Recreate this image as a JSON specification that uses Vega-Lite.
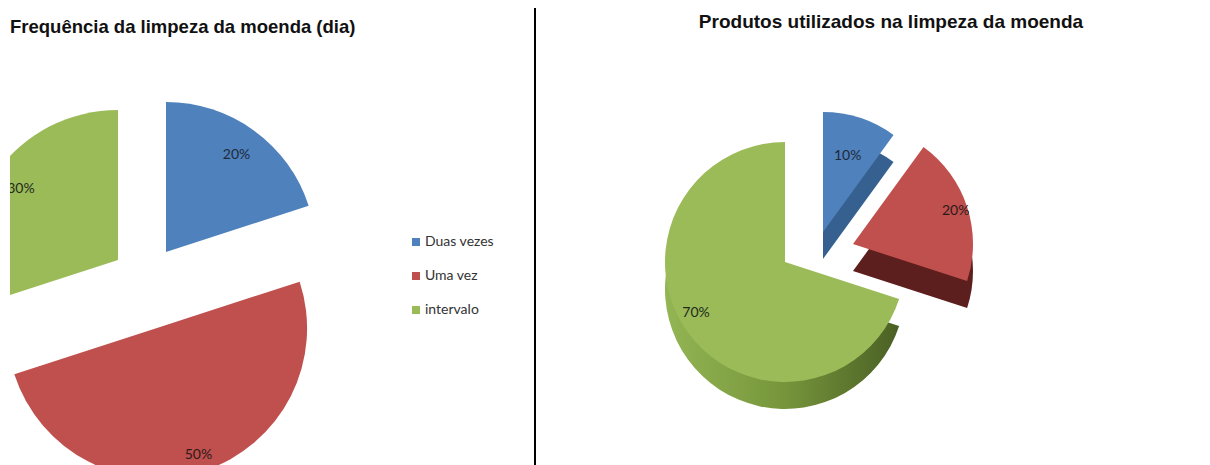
{
  "$schema": "https://vega.github.io/schema/vega-lite/v6.json",
  "autosize": {"type": "none"},
  "padding": {"left": 10, "top": 0, "right": 0, "bottom": 0},
  "width": 1200,
  "height": 465,
  "background": "white",
  "config": {
    "view": {"stroke": null},
    "legend": {
      "symbolType": "square",
      "symbolSize": 64,
      "symbolStrokeWidth": 0,
      "labelFont": "Lato",
      "labelFontSize": 14,
      "labelColor": "#333333",
      "labelOffset": 2,
      "rowPadding": 20,
      "padding": 0
    }
  },
  "datasets": {
    "fatias": [
      {"grafico": "freq", "ordem": 1, "categoria": "Duas vezes", "valor": 0.2},
      {"grafico": "freq", "ordem": 2, "categoria": "Uma vez", "valor": 0.5},
      {"grafico": "freq", "ordem": 3, "categoria": "intervalo", "valor": 0.3},
      {"grafico": "prod", "ordem": 1, "categoria": "água", "valor": 0.1},
      {"grafico": "prod", "ordem": 2, "categoria": "água e sabão", "valor": 0.2},
      {"grafico": "prod", "ordem": 3, "categoria": "água e detergente", "valor": 0.7}
    ],
    "titulos": [
      {"grafico": "freq", "titulo": "Frequência da limpeza da moenda (dia)"},
      {"grafico": "prod", "titulo": "Produtos utilizados na limpeza da moenda"}
    ]
  },
  "data": {"name": "fatias"},
  "encoding": {
    "x": {"field": "grafico", "type": "nominal", "scale": {"type": "point", "domain": ["freq", "prod"], "range": [133, 775], "padding": 0}, "axis": null},
    "y": {"field": "grafico", "type": "nominal", "scale": {"type": "point", "domain": ["freq", "prod"], "range": [290, 262], "padding": 0}, "axis": null}
  },
  "layer": [
    {
      "transform": [{"filter": "datum.grafico === 'freq'"}],
      "encoding": {
        "theta": {"field": "valor", "type": "quantitative", "stack": true},
        "order": {"field": "ordem", "type": "quantitative"},
        "detail": {"field": "categoria", "type": "nominal"},
        "color": {"field": "categoria", "type": "nominal", "scale": {"domain": ["Duas vezes", "Uma vez", "intervalo"], "range": ["#4f81bd", "#c0504d", "#9bbb59"]}, "legend": null}
      },
      "layer": [
        {
          "mark": {"type": "arc", "outerRadius": 150, "xOffset": 23, "yOffset": -38, "clip": true},
          "encoding": {
            "opacity": {"condition": {"test": "datum.categoria === 'Duas vezes'", "value": 1}, "value": 0},
            "color": {"field": "categoria", "type": "nominal", "scale": {"domain": ["Duas vezes", "Uma vez", "intervalo"], "range": ["#4f81bd", "#c0504d", "#9bbb59"]}, "legend": {"orient": "none", "legendX": 399, "legendY": 235, "title": null}}
          }
        },
        {
          "mark": {"type": "arc", "outerRadius": 150, "xOffset": 14, "yOffset": 38, "clip": true},
          "encoding": {"opacity": {"condition": {"test": "datum.categoria === 'Uma vez'", "value": 1}, "value": 0}}
        },
        {
          "mark": {"type": "arc", "outerRadius": 150, "xOffset": -25, "yOffset": -30, "clip": true},
          "encoding": {"opacity": {"condition": {"test": "datum.categoria === 'intervalo'", "value": 1}, "value": 0}}
        },
        {
          "mark": {"type": "text", "radius": 120, "xOffset": 23, "yOffset": -38, "clip": true, "font": "Lato", "fontSize": 14},
          "encoding": {
            "text": {"field": "valor", "type": "quantitative", "format": ".0%"},
            "color": {"value": "#1e2a3a"},
            "opacity": {"condition": {"test": "datum.categoria === 'Duas vezes'", "value": 1}, "value": 0}
          }
        },
        {
          "mark": {"type": "text", "radius": 134, "xOffset": 14, "yOffset": 38, "clip": true, "font": "Lato", "fontSize": 14},
          "encoding": {
            "text": {"field": "valor", "type": "quantitative", "format": ".0%"},
            "color": {"value": "#2a1a1a"},
            "opacity": {"condition": {"test": "datum.categoria === 'Uma vez'", "value": 1}, "value": 0}
          }
        },
        {
          "mark": {"type": "text", "radius": 120, "xOffset": -25, "yOffset": -30, "clip": true, "font": "Lato", "fontSize": 14},
          "encoding": {
            "text": {"field": "valor", "type": "quantitative", "format": ".0%"},
            "color": {"value": "#222a1a"},
            "opacity": {"condition": {"test": "datum.categoria === 'intervalo'", "value": 1}, "value": 0}
          }
        }
      ]
    },
    {
      "transform": [{"filter": "datum.grafico === 'prod'"}],
      "encoding": {
        "theta": {"field": "valor", "type": "quantitative", "stack": true},
        "order": {"field": "ordem", "type": "quantitative"},
        "detail": {"field": "categoria", "type": "nominal"},
        "color": {"field": "categoria", "type": "nominal", "scale": {"domain": ["água", "água e sabão", "água e detergente"], "range": ["#4f81bd", "#c0504d", "#9bbb59"]}, "legend": null}
      },
      "layer": [
        {
          "mark": {"type": "arc", "outerRadius": 120, "xOffset": 0, "yOffset": 27},
          "encoding": {
            "color": {"value": {"gradient": "linear", "x1": 0, "x2": 1, "y1": 0, "y2": 0, "stops": [{"offset": 0, "color": "#93b553"}, {"offset": 0.5, "color": "#77963c"}, {"offset": 1, "color": "#4a6024"}]}},
            "opacity": {"condition": {"test": "datum.categoria === 'água e detergente'", "value": 1}, "value": 0}
          }
        },
        {
          "mark": {"type": "arc", "outerRadius": 120, "xOffset": 0, "yOffset": 0},
          "encoding": {"opacity": {"condition": {"test": "datum.categoria === 'água e detergente'", "value": 1}, "value": 0}}
        },
        {
          "mark": {"type": "arc", "outerRadius": 120, "xOffset": 38, "yOffset": -3},
          "encoding": {
            "color": {"value": "#36608f"},
            "opacity": {"condition": {"test": "datum.categoria === 'água'", "value": 1}, "value": 0}
          }
        },
        {
          "mark": {"type": "arc", "outerRadius": 120, "xOffset": 38, "yOffset": -30},
          "encoding": {
            "opacity": {"condition": {"test": "datum.categoria === 'água'", "value": 1}, "value": 0},
            "color": {"field": "categoria", "type": "nominal", "scale": {"domain": ["água", "água e sabão", "água e detergente"], "range": ["#4f81bd", "#c0504d", "#9bbb59"]}, "legend": {"orient": "none", "legendX": 1069, "legendY": 235, "title": null}}
          }
        },
        {
          "mark": {"type": "arc", "outerRadius": 120, "xOffset": 68, "yOffset": 9},
          "encoding": {
            "color": {"value": "#5d1f1d"},
            "opacity": {"condition": {"test": "datum.categoria === 'água e sabão'", "value": 1}, "value": 0}
          }
        },
        {
          "mark": {"type": "arc", "outerRadius": 120, "xOffset": 68, "yOffset": -18},
          "encoding": {"opacity": {"condition": {"test": "datum.categoria === 'água e sabão'", "value": 1}, "value": 0}}
        },
        {
          "mark": {"type": "text", "radius": 80, "xOffset": 38, "yOffset": -30, "font": "Lato", "fontSize": 14},
          "encoding": {
            "text": {"field": "valor", "type": "quantitative", "format": ".0%"},
            "color": {"value": "#1e2a3a"},
            "opacity": {"condition": {"test": "datum.categoria === 'água'", "value": 1}, "value": 0}
          }
        },
        {
          "mark": {"type": "text", "radius": 108, "xOffset": 68, "yOffset": -18, "font": "Lato", "fontSize": 14},
          "encoding": {
            "text": {"field": "valor", "type": "quantitative", "format": ".0%"},
            "color": {"value": "#2a1a1a"},
            "opacity": {"condition": {"test": "datum.categoria === 'água e sabão'", "value": 1}, "value": 0}
          }
        },
        {
          "mark": {"type": "text", "radius": 100, "xOffset": -8, "yOffset": -8, "font": "Lato", "fontSize": 14},
          "encoding": {
            "text": {"field": "valor", "type": "quantitative", "format": ".0%"},
            "color": {"value": "#222a1a"},
            "opacity": {"condition": {"test": "datum.categoria === 'água e detergente'", "value": 1}, "value": 0}
          }
        }
      ]
    },
    {
      "data": {"name": "titulos"},
      "transform": [{"filter": "datum.grafico === 'freq'"}],
      "mark": {"type": "text", "align": "left", "baseline": "middle", "xOffset": -133, "yOffset": -263, "font": "Liberation Sans", "fontSize": 18.5, "fontWeight": "bold", "color": "#111111"},
      "encoding": {"text": {"field": "titulo", "type": "nominal"}}
    },
    {
      "data": {"name": "titulos"},
      "transform": [{"filter": "datum.grafico === 'prod'"}],
      "mark": {"type": "text", "align": "center", "baseline": "middle", "xOffset": 106, "yOffset": -240, "font": "Liberation Sans", "fontSize": 19, "fontWeight": "bold", "color": "#111111"},
      "encoding": {"text": {"field": "titulo", "type": "nominal"}}
    },
    {
      "data": {"name": "titulos"},
      "transform": [{"filter": "datum.grafico === 'prod'"}],
      "mark": {"type": "rule", "xOffset": -250, "yOffset": -254, "color": "#000000", "strokeWidth": 2},
      "encoding": {"y2": {"value": "height"}}
    }
  ],
  "resolve": {"scale": {"color": "independent"}}
}
